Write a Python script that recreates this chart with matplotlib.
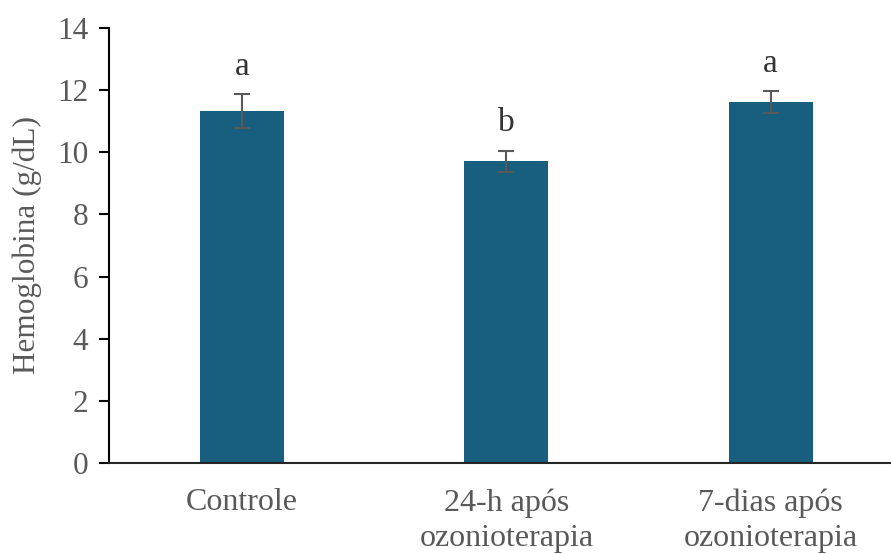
import matplotlib
matplotlib.use("Agg")
import matplotlib.pyplot as plt

categories = ["Controle", "24-h após\nozonioterapia", "7-dias após\nozonioterapia"]
means = [11.32, 9.71, 11.62]
errors = [0.55, 0.34, 0.36]
letters = ["a", "b", "a"]
yticks = [0, 2, 4, 6, 8, 10, 12, 14]

plt.rcParams['font.family'] = ['Liberation Serif', 'DejaVu Serif']
grey = '#595959'
bar_color = '#175E7F'

fig = plt.figure(figsize=(8.91, 5.54), dpi=100)
W, H = 891, 554
ax = fig.add_axes([109 / W, (H - 463) / H, (891 - 109) / W, (463 - 28) / H])

x = list(range(len(categories)))
ax.bar(x, means, width=0.318, color=bar_color, zorder=2)
ax.errorbar(x, means, yerr=errors, fmt='none', ecolor=grey, elinewidth=1.5,
            capsize=6, capthick=1.5, zorder=3)
for xi, m, e, l in zip(x, means, errors, letters):
    ax.text(xi, m + e + 0.62, l, ha='center', va='baseline', fontsize=24, color='#333333')

ax.set_xlim(-0.503, 2.455)
ax.set_ylim(0, 14)
ax.set_yticks(yticks)
ax.set_yticklabels([str(t) for t in yticks])
ax.set_xticks(x)
ax.set_xticklabels(categories, linespacing=1.3)

for s in ['top', 'right']:
    ax.spines[s].set_visible(False)
ax.spines['left'].set_color('black')
ax.spines['left'].set_linewidth(1.5)
ax.spines['bottom'].set_color('#262626')
ax.spines['bottom'].set_linewidth(1.5)

ax.tick_params(axis='y', direction='out', length=7, width=1.5, color='black',
               labelsize=22.5, labelcolor=grey, pad=8)
ax.tick_params(axis='x', length=0, labelsize=23, labelcolor=grey, pad=18)

ax.set_ylabel("Hemoglobina (g/dL)", fontsize=22.5, color=grey, labelpad=11)

fig.savefig("out.png", dpi=100)
